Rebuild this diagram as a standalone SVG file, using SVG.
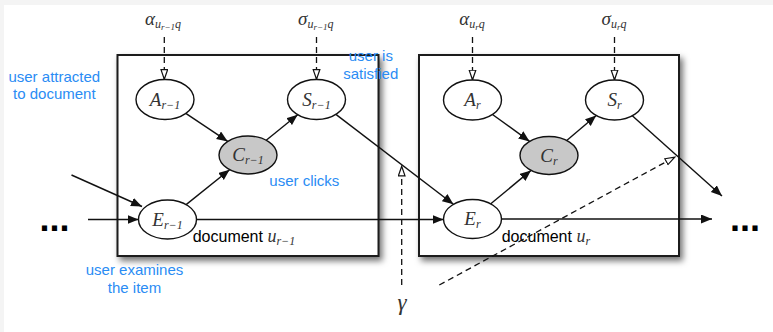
<svg xmlns="http://www.w3.org/2000/svg" width="773" height="332" viewBox="0 0 773 332">
  <style>
    .plate { fill: #ffffff; stroke: #1a1a1a; stroke-width: 2; filter: url(#shadow); }
    .node { fill: #ffffff; stroke: #111111; stroke-width: 1.4; }
    .obs { fill: #c8c8c8; stroke: #111111; stroke-width: 1.4; }
    .edge { fill: none; stroke: #111111; stroke-width: 1.4; marker-end: url(#arrow); }
    .prior { fill: none; stroke: #111111; stroke-width: 1.3; stroke-dasharray: 6 4; marker-end: url(#hollow); }
    .math { font-family: "Liberation Serif", "DejaVu Serif", serif; font-style: italic; fill: #333333; }
    .note { font-family: "Liberation Sans", Arial, sans-serif; font-size: 15px; fill: #2a8cf4; }
    .doc { font-family: "Liberation Sans", Arial, sans-serif; font-size: 16px; fill: #000000; }
    .dots { font-family: "Liberation Sans", Arial, sans-serif; font-size: 36px; font-weight: bold; fill: #000000; }
  </style>
  <defs>
    <filter id="shadow" x="-10%" y="-10%" width="125%" height="130%">
      <feDropShadow dx="3" dy="4" stdDeviation="3" flood-color="#000000" flood-opacity="0.55"/>
    </filter>
    <marker id="arrow" markerUnits="userSpaceOnUse" markerWidth="12" markerHeight="10" refX="11" refY="4.5" orient="auto">
      <path d="M0,0 L11,4.5 L0,9 Z" fill="#111111"/>
    </marker>
    <marker id="hollow" markerUnits="userSpaceOnUse" markerWidth="12" markerHeight="10" refX="10.5" refY="4" orient="auto">
      <path d="M0.7,0.7 L10.3,4 L0.7,7.3 Z" fill="#ffffff" stroke="#111111" stroke-width="1.2"/>
    </marker>
  </defs>

  <!-- page -->
  <rect x="0" y="0" width="773" height="332" fill="#f4f4f4"/>
  <rect x="4" y="5" width="769" height="327" fill="#ffffff"/>

  <!-- document plates -->
  <g id="plate-prev">
    <rect class="plate" x="117.5" y="55" width="261" height="201"/>
    <text class="doc" x="192.7" y="241.7">document <tspan class="math" font-size="18">u</tspan><tspan class="math" font-size="12" dy="3">r−1</tspan></text>
  </g>
  <g id="plate-cur">
    <rect class="plate" x="419" y="55" width="260" height="201"/>
    <text class="doc" x="501.7" y="241.7">document <tspan class="math" font-size="18">u</tspan><tspan class="math" font-size="12" dy="3">r</tspan></text>
  </g>

  <!-- connectors -->
  <g id="connectors">
    <!-- parameter priors -->
    <line class="prior" x1="164.3" y1="37" x2="164.3" y2="79.5"/>
    <line class="prior" x1="316.5" y1="37" x2="316.5" y2="79.5"/>
    <line class="prior" x1="472.5" y1="37" x2="472.5" y2="80"/>
    <line class="prior" x1="614.5" y1="37" x2="614.5" y2="80"/>
    <line class="prior" x1="401.7" y1="285" x2="401.7" y2="166"/>
    <line class="prior" x1="439.3" y1="285" x2="675" y2="157"/>
    <!-- previous document -->
    <line class="edge" x1="71.5" y1="175" x2="142" y2="206.5"/>
    <line class="edge" x1="88" y1="219.5" x2="138.5" y2="219.5"/>
    <line class="edge" x1="185.8" y1="113.4" x2="227.7" y2="141.4"/>
    <line class="edge" x1="266.2" y1="140.2" x2="297.7" y2="114.7"/>
    <line class="edge" x1="186.1" y1="204.6" x2="229.6" y2="169.7"/>
    <line class="edge" x1="196.5" y1="219.5" x2="443.5" y2="219.5"/>
    <line class="edge" x1="335.9" y1="114.4" x2="453.4" y2="204.3"/>
    <!-- current document -->
    <line class="edge" x1="492.5" y1="114.5" x2="529.6" y2="141.4"/>
    <line class="edge" x1="566.7" y1="140.5" x2="596.2" y2="115.5"/>
    <line class="edge" x1="490.8" y1="203.8" x2="531" y2="170.4"/>
    <line class="edge" x1="501.5" y1="219" x2="712" y2="219"/>
    <line class="edge" x1="632.3" y1="115.8" x2="722" y2="196"/>
  </g>

  <!-- parameters -->
  <g id="param-alpha-prev">
    <text class="math" x="163" y="25" font-size="19" text-anchor="middle">α<tspan font-size="12" dy="3">u</tspan><tspan font-size="9" dy="2">r−1</tspan><tspan font-size="12" dy="-2">q</tspan></text>
  </g>
  <g id="param-sigma-prev">
    <text class="math" x="315.8" y="25" font-size="19" text-anchor="middle">σ<tspan font-size="12" dy="3">u</tspan><tspan font-size="9" dy="2">r−1</tspan><tspan font-size="12" dy="-2">q</tspan></text>
  </g>
  <g id="param-alpha-cur">
    <text class="math" x="472" y="25" font-size="19" text-anchor="middle">α<tspan font-size="12" dy="3">u</tspan><tspan font-size="9" dy="2">r</tspan><tspan font-size="12" dy="-2">q</tspan></text>
  </g>
  <g id="param-sigma-cur">
    <text class="math" x="614" y="25" font-size="19" text-anchor="middle">σ<tspan font-size="12" dy="3">u</tspan><tspan font-size="9" dy="2">r</tspan><tspan font-size="12" dy="-2">q</tspan></text>
  </g>
  <g id="param-gamma">
    <text class="math" x="402" y="310" font-size="23" text-anchor="middle">γ</text>
  </g>

  <!-- nodes, previous document -->
  <g id="node-A-prev">
    <ellipse class="node" cx="165" cy="99.5" rx="29" ry="20"/>
    <text class="math" x="165" y="105.5" font-size="19" text-anchor="middle">A<tspan font-size="12" dy="3">r−1</tspan></text>
  </g>
  <g id="node-S-prev">
    <ellipse class="node" cx="316.5" cy="99.5" rx="29" ry="20"/>
    <text class="math" x="316.5" y="105.5" font-size="19" text-anchor="middle">S<tspan font-size="12" dy="3">r−1</tspan></text>
  </g>
  <g id="node-C-prev">
    <ellipse class="obs" cx="248" cy="155" rx="29" ry="19"/>
    <text class="math" x="248" y="161" font-size="19" text-anchor="middle">C<tspan font-size="12" dy="3">r−1</tspan></text>
  </g>
  <g id="node-E-prev">
    <ellipse class="node" cx="167.5" cy="219.5" rx="29" ry="19.5"/>
    <text class="math" x="167.5" y="225.5" font-size="19" text-anchor="middle">E<tspan font-size="12" dy="3">r−1</tspan></text>
  </g>

  <!-- nodes, current document -->
  <g id="node-A-cur">
    <ellipse class="node" cx="472.5" cy="100" rx="29" ry="20"/>
    <text class="math" x="472.5" y="106" font-size="19" text-anchor="middle">A<tspan font-size="12" dy="3">r</tspan></text>
  </g>
  <g id="node-S-cur">
    <ellipse class="node" cx="614.5" cy="100" rx="29" ry="20"/>
    <text class="math" x="614.5" y="106" font-size="19" text-anchor="middle">S<tspan font-size="12" dy="3">r</tspan></text>
  </g>
  <g id="node-C-cur">
    <ellipse class="obs" cx="549" cy="155.5" rx="29" ry="19"/>
    <text class="math" x="549" y="161.5" font-size="19" text-anchor="middle">C<tspan font-size="12" dy="3">r</tspan></text>
  </g>
  <g id="node-E-cur">
    <ellipse class="node" cx="472.5" cy="219" rx="29" ry="19.5"/>
    <text class="math" x="472.5" y="225" font-size="19" text-anchor="middle">E<tspan font-size="12" dy="3">r</tspan></text>
  </g>

  <!-- continuation marks -->
  <text class="dots" x="39.5" y="230.7">...</text>
  <text class="dots" x="729.9" y="230.7">...</text>

  <!-- annotations -->
  <g id="notes">
    <text class="note" x="54.3" y="81.7" text-anchor="middle">user attracted</text>
    <text class="note" x="54.3" y="99.3" text-anchor="middle">to document</text>
    <text class="note" x="370.8" y="61" text-anchor="middle">user is</text>
    <text class="note" x="370.8" y="79" text-anchor="middle">satisfied</text>
    <text class="note" x="269.3" y="186">user clicks</text>
    <text class="note" x="134.5" y="275" text-anchor="middle">user examines</text>
    <text class="note" x="134.5" y="292.7" text-anchor="middle">the item</text>
  </g>
</svg>
